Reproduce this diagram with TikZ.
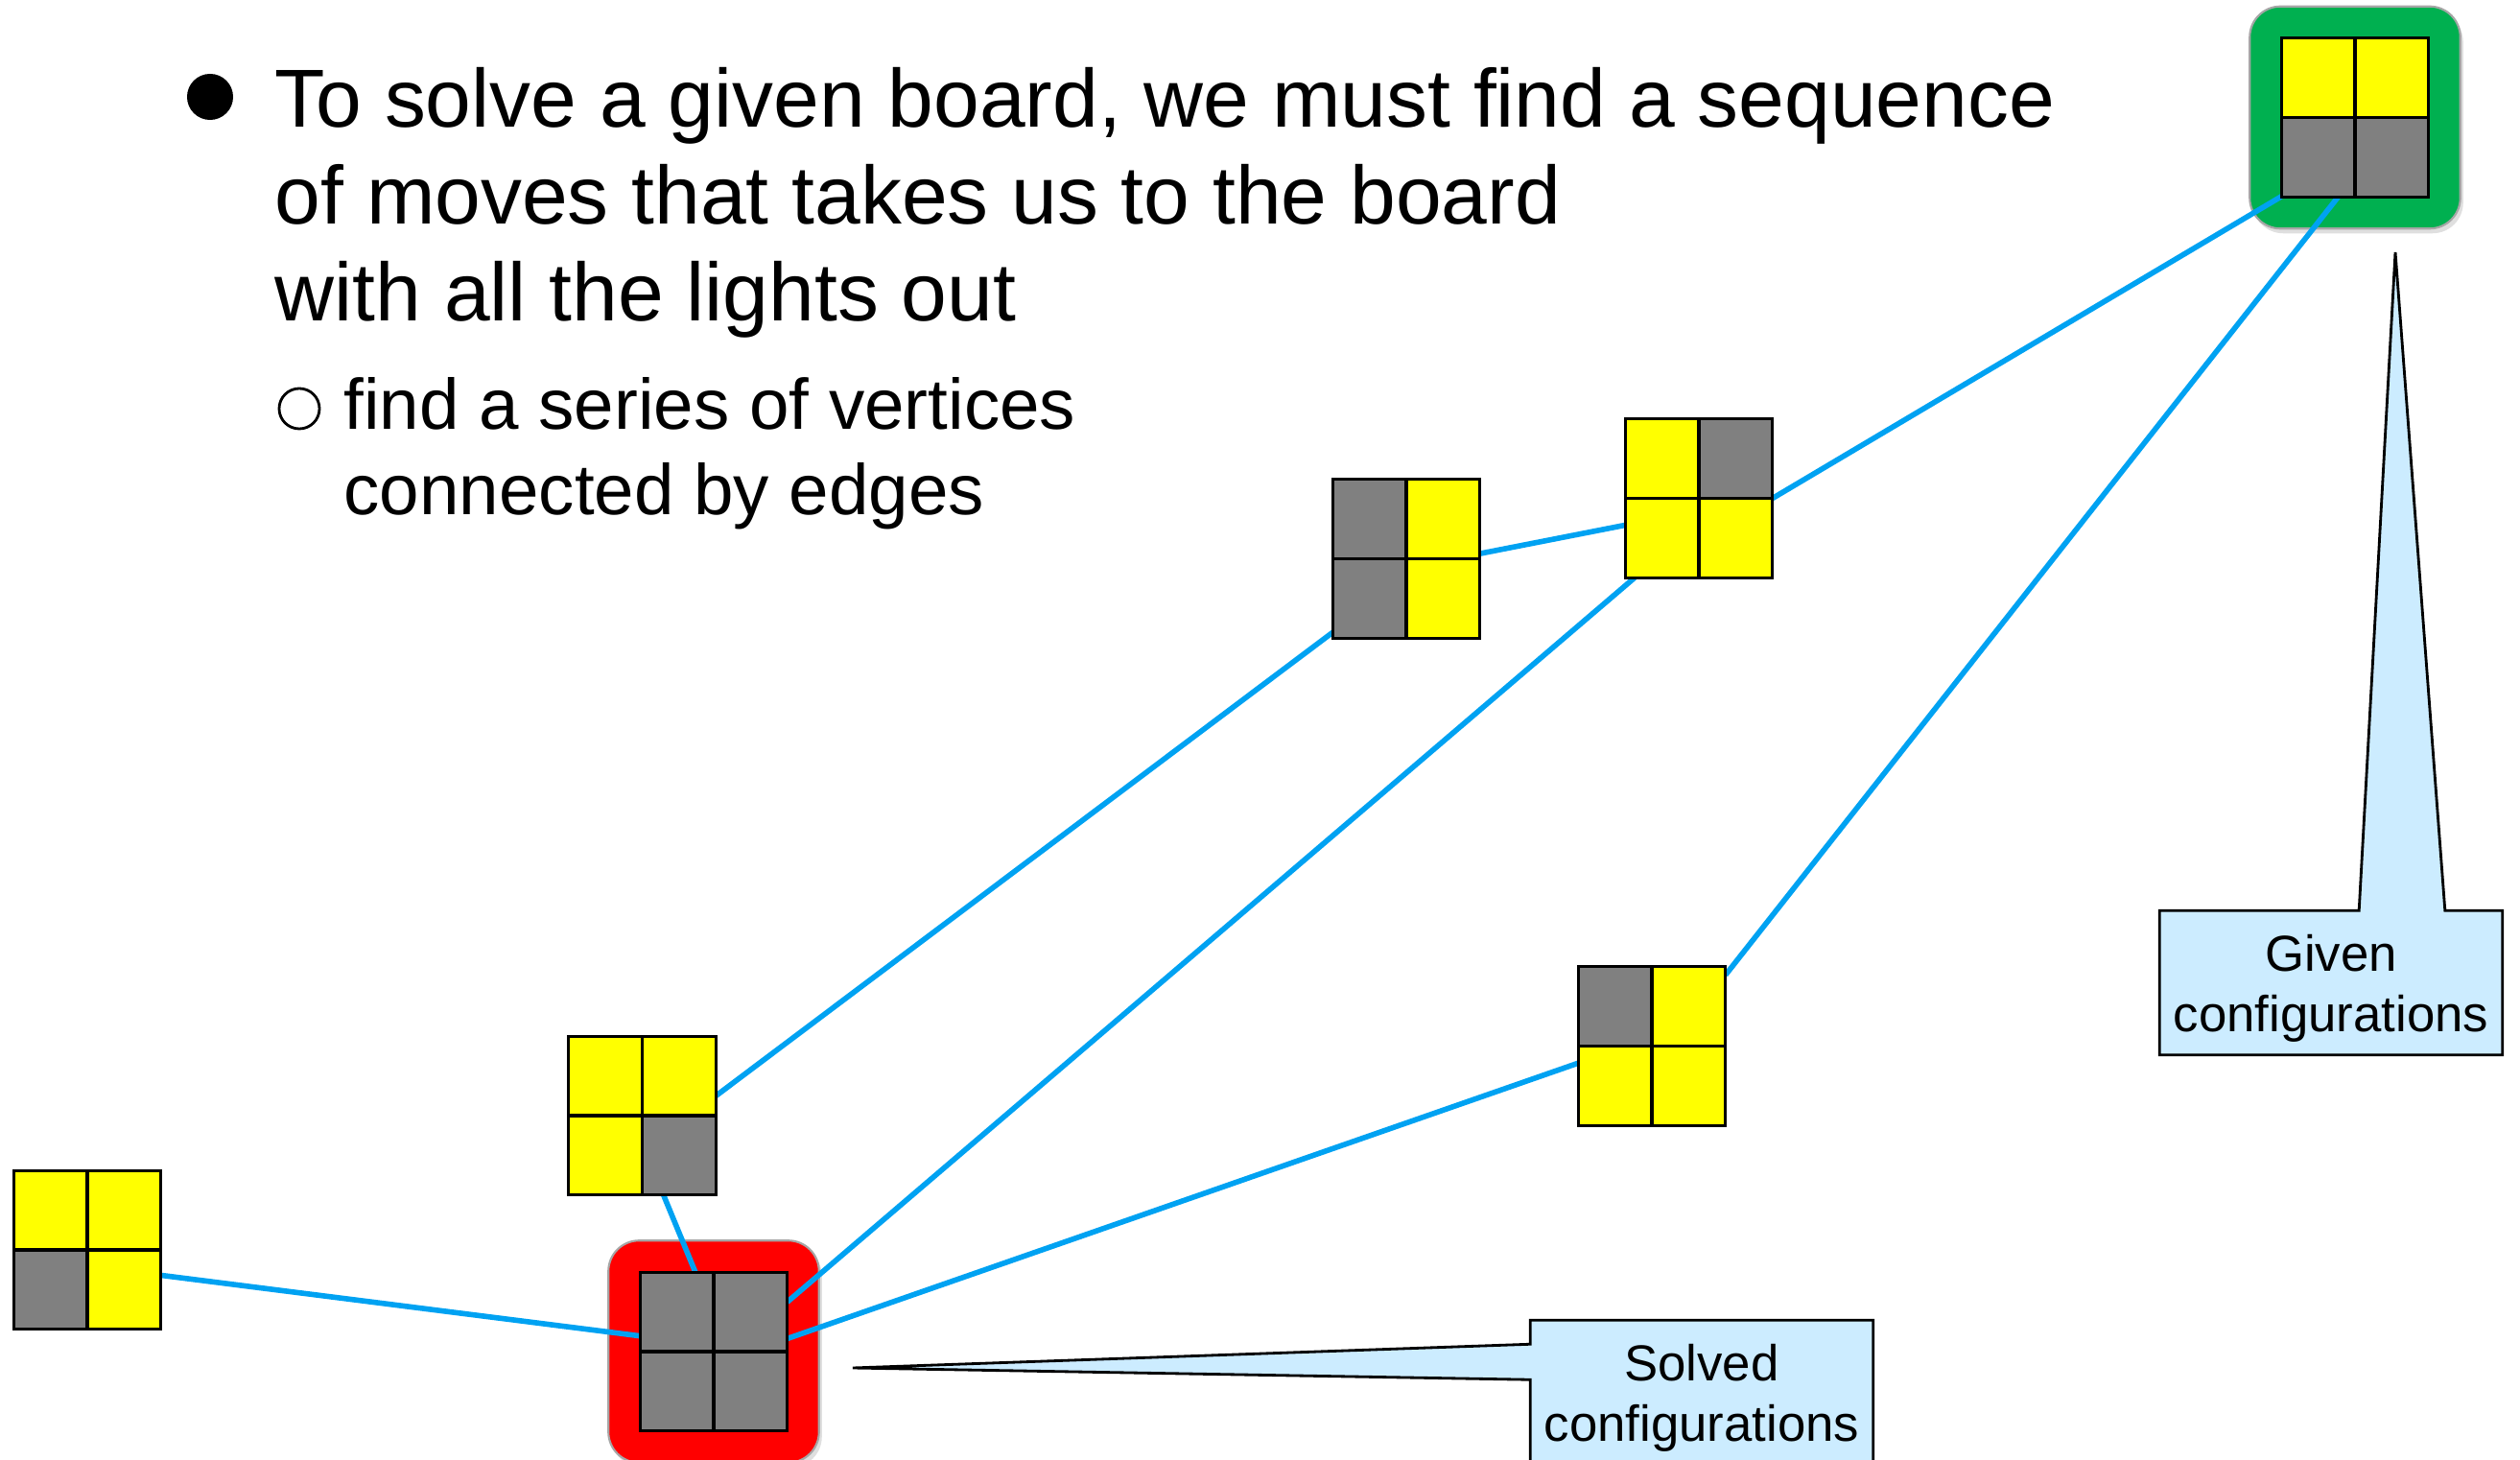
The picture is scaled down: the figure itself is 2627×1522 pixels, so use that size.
\documentclass[tikz,border=0pt]{standalone}
\usepackage{fontspec}
\setmainfont{Liberation Sans}
\usetikzlibrary{positioning,fit,backgrounds,calc,shadows}
\definecolor{lampon}{HTML}{FFFF00}
\definecolor{lampoff}{HTML}{808080}
\definecolor{edgeblue}{HTML}{00A2F2}
\definecolor{startgreen}{HTML}{00B050}
\definecolor{goalred}{HTML}{FF0000}
\definecolor{notefill}{HTML}{CCECFF}
\tikzset{
  board/.style={rectangle, minimum width=1.52cm, minimum height=1.64cm, inner sep=0pt},
  frame/.style={
    rectangle, rounded corners=0.32cm, fill=#1, draw=black!35, line width=0.6pt,
    inner sep=0.33cm,
    drop shadow={opacity=0.25, shadow xshift=0.03cm, shadow yshift=-0.05cm}
  },
  cellline/.style={draw=black, line width=0.9pt},
  moveedge/.style={draw=edgeblue, line width=1.6pt},
  notebox/.style={fill=notefill, draw=black, line width=0.8pt, line join=miter},
  notetext/.style={
    rectangle, minimum width=3.56cm, minimum height=1.49cm, inner sep=0pt,
    align=center, text depth=0pt, font=\fontsize{15}{17.9}\selectfont
  }
}
% lamps of a 2x2 board: node, top left, top right, bottom left, bottom right
\newcommand{\lamps}[5]{%
  \fill[#2] (#1.north west) rectangle (#1.center);
  \fill[#3] (#1.north) rectangle (#1.east);
  \fill[#4] (#1.west) rectangle (#1.south);
  \fill[#5] (#1.center) rectangle (#1.south east);
  \draw[cellline] (#1.north west) rectangle (#1.south east);
  \draw[cellline] (#1.north) -- (#1.south) (#1.west) -- (#1.east);
}

\begin{document}
\begin{tikzpicture}[x=0.01cm, y=-0.01cm]
\useasboundingbox (0,0) rectangle (2627,1522);

% text
\node[circle, fill=black, minimum size=0.48cm, inner sep=0pt] (dot) at (219,101) {};
\node[anchor=base west, inner sep=0pt, align=left, font=\fontsize{24.4}{28.8}\selectfont]
  (goal) at (286,335) {To solve a given board, we must find a sequence\\of moves that takes us to the board\\with all the lights out};
\node[circle, draw=black, line width=0.8pt, minimum size=0.42cm, inner sep=0pt] (ring) at (312,426) {};
\node[anchor=base west, inner sep=0pt, align=left, font=\fontsize{21.2}{25.5}\selectfont]
  (hint) at (358,537) {find a series of vertices\\connected by edges};

% boards
\node[board] (given)  at (2455,122.5) {};
\node[board] (solved) at (744,1409) {};
\node[board] (boardA) at (91,1303) {};
\node[board] (boardB) at (669.5,1163) {};
\node[board] (boardC) at (1466,582.5) {};
\node[board] (boardD) at (1771,519.5) {};
\node[board] (boardE) at (1722,1090.5) {};

\begin{pgfonlayer}{background}
\node[frame=startgreen, fit=(given)] (givenframe) {};
\node[frame=goalred, fit=(solved)] (solvedframe) {};
\end{pgfonlayer}

% moves
\draw[moveedge] (boardA.-19) -- (solved.168);
\draw[moveedge] (boardB.-75) -- (solved.103);
\draw[moveedge] (boardB.15) -- (boardC.-135);
\draw[moveedge] (solved.34) -- (boardD.-129);
\draw[moveedge] (solved.10) -- (boardE.-167);
\draw[moveedge] (boardC.4) -- (boardD.-160);
\draw[moveedge] (boardD.east) -- (given.-133);
\draw[moveedge] (boardE.44) -- (given.-102);

\lamps{given}{lampon}{lampon}{lampoff}{lampoff}
\lamps{solved}{lampoff}{lampoff}{lampoff}{lampoff}
\lamps{boardA}{lampon}{lampon}{lampoff}{lampon}
\lamps{boardB}{lampon}{lampon}{lampon}{lampoff}
\lamps{boardC}{lampoff}{lampon}{lampoff}{lampon}
\lamps{boardD}{lampon}{lampoff}{lampon}{lampon}
\lamps{boardE}{lampoff}{lampon}{lampon}{lampon}

% callouts
\node[notetext] (givenlbl) at (2430,1024.5) {Given\\configurations};
\node[notetext] (solvedlbl) at (1774,1451.5) {Solved\\configurations};
\coordinate (giventip) at (2497,263);
\coordinate (solvedtip) at (889,1426);
\begin{pgfonlayer}{background}
\draw[notebox] (givenlbl.north west) -- ++(208,0) -- (giventip)
  -- ($(givenlbl.north east)+(-60,0)$) -- (givenlbl.north east)
  -- (givenlbl.south east) -- (givenlbl.south west) -- cycle;
\draw[notebox] (solvedlbl.north west) -- ++(0,25) -- (solvedtip)
  -- ($(solvedlbl.north west)+(0,62)$) -- (solvedlbl.south west)
  -- (solvedlbl.south east) -- (solvedlbl.north east) -- cycle;
\end{pgfonlayer}
\end{tikzpicture}
\end{document}
